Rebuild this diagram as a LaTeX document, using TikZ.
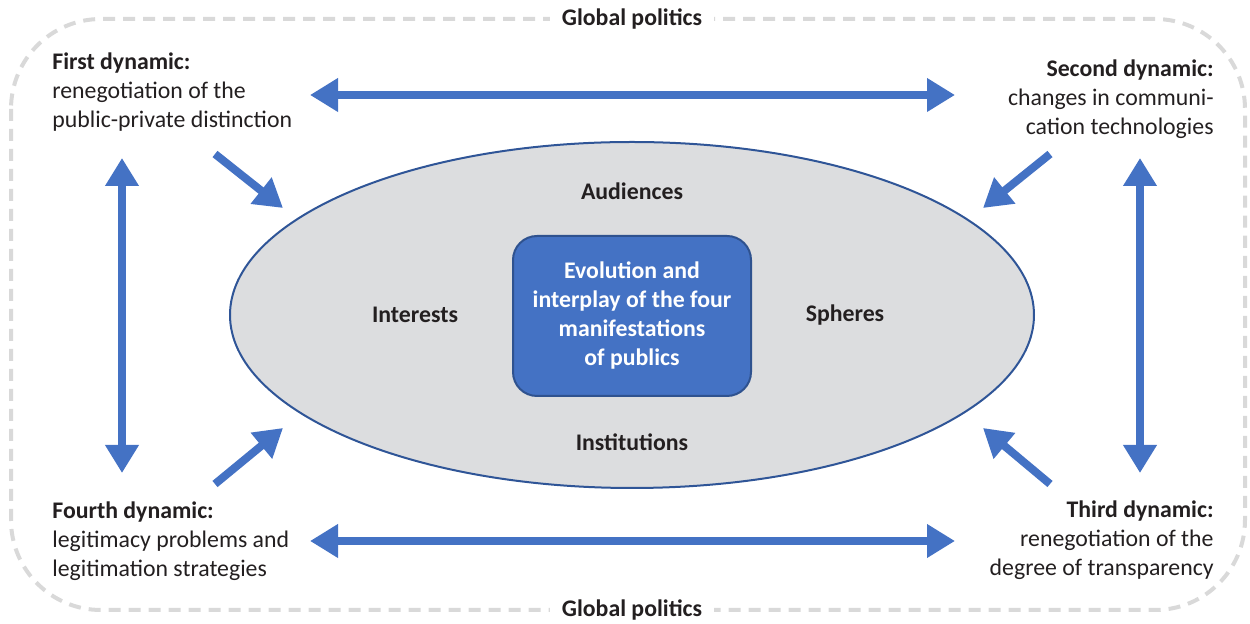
\documentclass[tikz,border=0pt]{standalone}
\usepackage{fontspec}
\setmainfont{Carlito}
\usepackage{tikz}
\usetikzlibrary{positioning,shapes.geometric,arrows.meta}

\definecolor{flowblue}{HTML}{4472C4}
\definecolor{rimblue}{HTML}{2F5597}
\definecolor{coreedge}{HTML}{2F528F}
\definecolor{ovalgray}{HTML}{DCDDDF}
\definecolor{framegray}{HTML}{D9D9D9}
\definecolor{ink}{HTML}{231F20}

\begin{document}
\begin{tikzpicture}[x=0.5pt, y=-0.5pt,
    every node/.style={font=\fontsize{11.9}{14.5}\selectfont, text=ink},
    tag/.style={font=\fontsize{11.9}{14.5}\selectfont\bfseries},
    dyn/.style={inner sep=0pt},
    >={Triangle[length=14pt,width=16pt]},
    flow/.style={draw=flowblue, line width=4pt, ->},
    twoway/.style={draw=flowblue, line width=4pt, <->}]

  \useasboundingbox (0,0) rectangle (1250,624);

  % frame
  \draw[framegray, line width=2pt, dash pattern=on 6pt off 4pt,
    rounded corners=45pt] (11,19) rectangle (1245,610);
  \node[tag, fill=white, inner xsep=6pt, inner ysep=1pt] (gtop) at (632,19) {Global politics};
  \node[tag, fill=white, inner xsep=6pt, inner ysep=1pt] (gbot) at (632,610) {Global politics};

  % the four publics
  \node[ellipse, draw=rimblue, fill=ovalgray, line width=1pt, inner sep=0pt,
    minimum width=402pt, minimum height=173pt] (oval) at (632,315) {};
  \node[draw=coreedge, fill=flowblue, line width=1pt, rounded corners=12pt,
    minimum width=119pt, minimum height=80pt, align=center, text=white,
    font=\fontsize{11.9}{14.5}\selectfont\bfseries] (core) at (632,316)
    {Evolution and\\interplay of the four\\manifestations\\of publics};
  \node[tag] (aud) at (632,191) {Audiences};
  \node[tag] (int) at (415,315) {Interests};
  \node[tag] (sph) at (845,315) {Spheres};
  \node[tag] (ins) at (632,442) {Institutions};

  % dynamics
  \node[dyn, align=left, anchor=west] (first) at (52,92)
    {\textbf{First dynamic:}\\renegotiation of the\\public-private distinction};
  \node[dyn, align=right, anchor=east] (second) at (1214,99)
    {\textbf{Second dynamic:}\\changes in communi-\\cation technologies};
  \node[dyn, align=right, anchor=east] (third) at (1214,540)
    {\textbf{Third dynamic:}\\renegotiation of the\\degree of transparency};
  \node[dyn, align=left, anchor=west] (fourth) at (52,541)
    {\textbf{Fourth dynamic:}\\legitimacy problems and\\legitimation strategies};

  % arrow ends
  \coordinate (tl) at (310,95);   \coordinate (tr) at (955,95);
  \coordinate (bl) at (310,541);  \coordinate (br) at (955,541);
  \coordinate (lt) at (122,158);  \coordinate (lb) at (122,473);
  \coordinate (rt) at (1140,158); \coordinate (rb) at (1140,473);
  \coordinate (d1) at (215,154);  \coordinate (o1) at (283,208);
  \coordinate (d2) at (1050,154); \coordinate (o2) at (983,208);
  \coordinate (d3) at (1050,484); \coordinate (o3) at (983,428);
  \coordinate (d4) at (215,484);  \coordinate (o4) at (283,428);

  \draw[twoway] (tl) -- (tr);
  \draw[twoway] (bl) -- (br);
  \draw[twoway] (lt) -- (lb);
  \draw[twoway] (rt) -- (rb);
  \draw[flow] (d1) -- (o1);
  \draw[flow] (d2) -- (o2);
  \draw[flow] (d3) -- (o3);
  \draw[flow] (d4) -- (o4);
\end{tikzpicture}
\end{document}
